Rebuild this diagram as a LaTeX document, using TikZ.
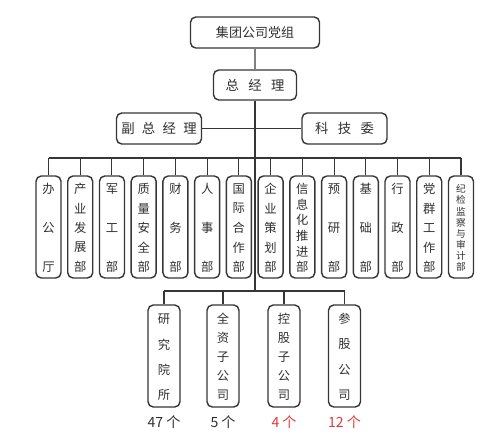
\documentclass[tikz,border=0pt]{standalone}
\usepackage{fontspec}
\setmainfont{Noto Sans CJK SC}
\definecolor{xian}{HTML}{363636}
\definecolor{mo}{HTML}{303030}
\definecolor{hong}{HTML}{E0393B}

\begin{document}
\begin{tikzpicture}[
x=0.02cm, y=-0.02cm, % 1 单位 = 1 像素
box/.style={draw=xian, line width=0.8pt, rounded corners=3pt, fill=white, inner sep=0pt, text=mo},
dept/.style={box, minimum width=0.5cm, minimum height=2.04cm},
gongsi/.style={box, minimum width=0.64cm, minimum height=2.04cm},
zi/.style={text=mo, inner sep=0pt, font=\fontsize{#1}{#1}\selectfont},
zi/.default=7,
link/.style={draw=xian, line width=0.6pt}
]
\useasboundingbox (0,0) rectangle (500,444);

% --- 领导层 ---
\node[box, minimum width=2.58cm, minimum height=0.62cm, zi=7.4] (dangzu) at (255,32.5) {集团公司党组};
\node[box, minimum width=1.66cm, minimum height=0.6cm, zi=7.6] (zjl) at (255,85) {总\hspace{0.7em}经\hspace{0.7em}理};
\node[box, minimum width=1.7cm, minimum height=0.62cm, zi=7.6] (fzjl) at (159,128.5) {副\hspace{0.55em}总\hspace{0.55em}经\hspace{0.55em}理};
\node[box, minimum width=1.7cm, minimum height=0.62cm, zi=7.6] (kjw) at (344.5,128.5) {科\hspace{0.7em}技\hspace{0.7em}委};

\coordinate (busA) at (255,158);
\coordinate (busB) at (255,291);

\draw[link, draw=gray] (dangzu) -- (zjl);
\draw[link] (zjl) -- (busB);
\draw[link] (fzjl) -- (kjw);

% --- 职能部门 ---
\foreach \zs/\n/\fs [count=\k, evaluate=\k as \x using 48.5+(\k-1)*31.73] in {
  {办,公,厅}/3/7, {产,业,发,展,部}/5/7, {军,工,部}/3/7, {质,量,安,全,部}/5/7,
  {财,务,部}/3/7, {人,事,部}/3/7, {国,际,合,作,部}/5/7, {企,业,策,划,部}/5/7,
  {信,息,化,推,进,部}/6/7, {预,研,部}/3/7, {基,础,部}/3/7, {行,政,部}/3/7,
  {党,群,工,作,部}/5/7, {纪,检,监,察,与,审,计,部}/8/5.5}{
  \node[dept] (d\k) at (\x,227) {};
  \draw[link] (d\k.north) -- (d\k.north |- busA);
  \foreach \c [count=\i] in \zs {
    \node[zi=\fs] (d\k-\i) at (\x, {189+(\i-1)*78/(\n-1)}) {\c};
  }
}
\draw[link] (d1.north |- busA) -- (d14.north |- busA);

% --- 下属单位 ---
\foreach \zs/\n/\x [count=\k] in {
  {研,究,院,所}/4/164, {全,资,子,公,司}/5/223, {控,股,子,公,司}/5/284, {参,股,公,司}/4/344.5}{
  \node[gongsi] (g\k) at (\x,356) {};
  \draw[link] (g\k.north) -- (g\k.north |- busB);
  \foreach \c [count=\i] in \zs {
    \node[zi] (g\k-\i) at (\x, {319+(\i-1)*76/(\n-1)}) {\c};
  }
}
\draw[link] (g1.north |- busB) -- (g4.north |- busB);

% 数量
\node[zi=8] (n1) at (164,422) {47 个};
\node[zi=8] (n2) at (223,422) {5 个};
\node[zi=8, text=hong] (n3) at (284,422) {4 个};
\node[zi=8, text=hong] (n4) at (344.5,422) {12 个};

\end{tikzpicture}
\end{document}
